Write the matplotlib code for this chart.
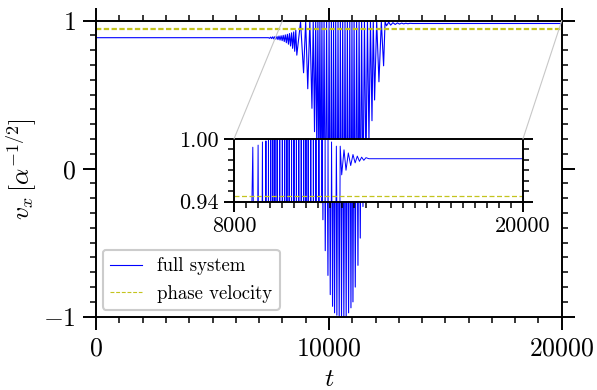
import numpy as np
import matplotlib.pyplot as plt
from matplotlib.patches import ConnectionPatch

plt.rcParams['font.family'] = 'serif'
plt.rcParams['font.serif'] = ['cmr10']
plt.rcParams['mathtext.fontset'] = 'cm'
plt.rcParams['axes.formatter.use_mathtext'] = True
plt.rcParams['axes.unicode_minus'] = True

# velocity before the instability sets in, and after it has settled
v_start = 0.885
v_end = 0.981
t_first, t_last = 0, 20000
v_phase = 0.945

# small ringing before the burst (alternating extrema)
t_ring = [7400, 7450, 7495, 7540, 7585, 7630, 7675, 7720, 7765, 7810, 7855,
          7900, 7945, 7990, 8035, 8080, 8125, 8170, 8215, 8260, 8305, 8350,
          8395, 8440, 8485, 8530, 8575, 8620]
v_ring = [0.885, 0.881, 0.889, 0.879, 0.891, 0.877, 0.892, 0.875, 0.894,
          0.872, 0.896, 0.869, 0.898, 0.865, 0.901, 0.859, 0.904, 0.851,
          0.908, 0.841, 0.913, 0.829, 0.918, 0.813, 0.924, 0.793, 0.936,
          0.767]

# large oscillations: maxima and minima of the burst
t_burst = [8780, 8910, 9000, 9090, 9180, 9270, 9325, 9380, 9430, 9480,
           9525, 9570, 9612, 9655, 9698, 9741, 9791, 9841, 9899, 9957,
           10006, 10056, 10105, 10155, 10198, 10241, 10290, 10340, 10390,
           10440, 10490, 10540, 10590, 10640, 10690, 10740, 10791, 10843,
           10894, 10945, 10988, 11031, 11080, 11130, 11188, 11246, 11295,
           11345, 11403, 11461, 11525, 11590, 11654, 11718, 11783, 11848,
           11904, 11960, 12050, 12147, 12250, 12347, 12410]
v_burst = [0.992, 0.648, 0.994, 0.540, 0.997, 0.408, 0.998, 0.250, 0.999,
           0.080, 0.999, -0.100, 1.000, -0.230, 1.000, -0.345, 1.000,
           -0.554, 1.000, -0.721, 1.000, -0.851, 1.000, -0.930, 1.000,
           -0.974, 1.000, -0.990, 1.000, -1.000, 1.000, -1.000, 1.000,
           -1.000, 1.000, -0.995, 1.000, -0.974, 1.000, -0.940, 1.000,
           -0.900, 1.000, -0.800, 1.000, -0.653, 1.000, -0.469, 1.000,
           -0.256, 1.000, -0.030, 1.000, 0.190, 1.000, 0.324, 0.999,
           0.464, 0.997, 0.587, 0.993, 0.695, 0.993]

# damped ringing towards the final value
t_settle = [12472, 12568, 12651, 12747, 12846, 12940, 13030, 13120, 13210,
            13300, 13390, 13480, 13600]
v_settle = [0.9656, 0.9895, 0.970, 0.9865, 0.9745, 0.985, 0.977, 0.9835,
            0.9785, 0.9825, 0.9795, 0.982, 0.981]

t = np.concatenate([[t_first], t_ring, t_burst, t_settle, [t_last]])
v = np.concatenate([[v_start], v_ring, v_burst, v_settle, [v_end]])

blue = '#0000ff'
yel = '#c4c41e'

fig = plt.figure(figsize=(5.97, 3.90), dpi=100)
ax = fig.add_axes([0.161, 0.188, 0.780, 0.759])

ax.plot(t, v, color=blue, lw=0.8)
ax.axhline(v_phase, color=yel, lw=1.6, ls=(0, (2.4, 1.1)))

ax.set_xlim(0, 20000)
ax.set_ylim(-1, 1)
ax.set_xticks([0, 10000, 20000])
ax.set_yticks([-1, 0, 1])
ax.set_xticks(np.arange(0, 20001, 1000), minor=True)
ax.set_yticks(np.arange(-1, 1.001, 0.1), minor=True)
ax.tick_params(which='both', direction='out', top=True, right=True,
               labeltop=False, labelright=False)
ax.tick_params(which='major', length=9.5, width=1.4, labelsize=18.5, pad=5)
ax.tick_params(which='minor', length=4, width=1.1)
for s in ax.spines.values():
    s.set_linewidth(1.4)
ax.set_xlabel(r'$t$', fontsize=18.5, labelpad=5)
ax.set_ylabel(r'$v_x\,[\alpha^{-1/2}]$', fontsize=18.5, labelpad=4)

handles = [plt.Line2D([], [], color=blue, lw=0.8),
           plt.Line2D([], [], color=yel, lw=0.8, ls=(0, (3.5, 1.6)))]
leg = ax.legend(handles, ['full system', 'phase velocity'], loc='lower left',
                fontsize=13.5, handlelength=1.7, borderaxespad=0.35,
                fancybox=True, framealpha=1)
leg.get_frame().set_edgecolor('0.8')
leg.get_frame().set_linewidth(1.5)

# zoomed view of the saturated state
axins = fig.add_axes([0.392, 0.483, 0.484, 0.161])
axins.plot(t, v, color=blue, lw=0.7)
axins.axhline(v_phase, color=yel, lw=0.9, ls=(0, (4, 2)))
axins.set_xlim(8000, 20000)
axins.set_ylim(0.94, 1.00)
axins.set_xticks([8000, 20000])
axins.set_yticks([0.94, 1.00])
axins.set_xticks(np.arange(8000, 20001, 500), minor=True)
axins.set_yticks(np.arange(0.94, 1.0001, 0.01), minor=True)
axins.yaxis.set_major_formatter(plt.FormatStrFormatter('%.2f'))
axins.xaxis.set_major_formatter(plt.FormatStrFormatter('%d'))
axins.tick_params(which='both', direction='out', right=True)
axins.tick_params(which='major', length=7, width=1.4, labelsize=16, pad=4)
axins.tick_params(which='minor', length=4, width=1.1)
for s in axins.spines.values():
    s.set_linewidth(1.4)

for xc in (8000, 20000):
    con = ConnectionPatch(xyA=(xc, 1.0), coordsA=ax.transData,
                          xyB=(xc, 1.0), coordsB=axins.transData,
                          color='0.78', lw=0.8, zorder=0.5)
    fig.add_artist(con)

fig.savefig('out.png', dpi=100)
